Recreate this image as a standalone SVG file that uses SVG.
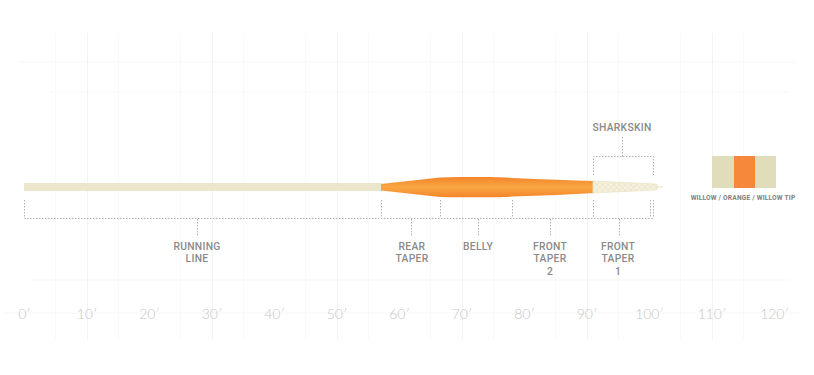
<svg xmlns="http://www.w3.org/2000/svg" width="814" height="375" viewBox="0 0 814 375">
<defs>
<style>
.lbl{font-family:Roboto,"Liberation Sans",sans-serif;font-weight:500;font-size:10.3px;fill:#8a8a8a;text-anchor:middle;letter-spacing:0.3px}
.ax{font-family:Lato,"Liberation Sans",sans-serif;font-weight:300;font-size:14px;fill:#c6c6c6;text-anchor:middle}
.dot{stroke:#b0b0b0;stroke-width:1;stroke-dasharray:1.5 1.5;fill:none}
.gmaj{stroke:#f3f3f3;stroke-width:1}
.gmin{stroke:#f9f9f9;stroke-width:1}
.gh{stroke:#f7f7f7;stroke-width:1}
</style>
<linearGradient id="org" x1="0" y1="0" x2="0" y2="1">
<stop offset="0" stop-color="#f4852a"/>
<stop offset="0.5" stop-color="#f9a744"/>
<stop offset="1" stop-color="#f4852a"/>
</linearGradient>
<pattern id="hatch" width="4" height="4" patternUnits="userSpaceOnUse" patternTransform="rotate(45)">
<rect width="4" height="4" fill="#f6f2e0"/>
<path d="M0,0 L4,0 M0,0 L0,4" stroke="#e4dcb8" stroke-width="1"/>
</pattern>
</defs>
<rect width="814" height="375" fill="#ffffff"/>
<g id="grid">
<line class="gh" x1="20" y1="62" x2="795" y2="62"/>
<line class="gh" x1="50" y1="92" x2="790" y2="92"/>
<line class="gh" x1="30" y1="280" x2="790" y2="280"/>
<line class="gh" x1="5" y1="313" x2="800" y2="313"/>
<line class="gmin" x1="55.5" y1="33" x2="55.5" y2="340"/>
<line class="gmaj" x1="87.5" y1="33" x2="87.5" y2="340"/>
<line class="gmin" x1="118.5" y1="33" x2="118.5" y2="340"/>
<line class="gmin" x1="180.5" y1="33" x2="180.5" y2="340"/>
<line class="gmaj" x1="212.5" y1="33" x2="212.5" y2="340"/>
<line class="gmin" x1="243.5" y1="33" x2="243.5" y2="340"/>
<line class="gmin" x1="305.5" y1="33" x2="305.5" y2="340"/>
<line class="gmaj" x1="337.5" y1="33" x2="337.5" y2="340"/>
<line class="gmin" x1="368.5" y1="33" x2="368.5" y2="340"/>
<line class="gmin" x1="430.5" y1="33" x2="430.5" y2="340"/>
<line class="gmaj" x1="462.5" y1="33" x2="462.5" y2="340"/>
<line class="gmin" x1="493.5" y1="33" x2="493.5" y2="340"/>
<line class="gmin" x1="555.5" y1="33" x2="555.5" y2="340"/>
<line class="gmaj" x1="587.5" y1="33" x2="587.5" y2="340"/>
<line class="gmin" x1="618.5" y1="33" x2="618.5" y2="340"/>
<line class="gmin" x1="680.5" y1="33" x2="680.5" y2="340"/>
<line class="gmaj" x1="712.5" y1="33" x2="712.5" y2="340"/>
<line class="gmin" x1="743.5" y1="33" x2="743.5" y2="340"/>
</g>
<g id="fly-line">
<line x1="655" y1="187" x2="663" y2="187" stroke="#e9e3c8" stroke-width="1"/>
<rect x="24" y="183" width="358" height="8" fill="#ece6cd"/>
<path d="M381,184 L440,177.5 C470,176.8 500,177 512,178 Q560,180 594,181 L594,193 Q560,195 512,196.5 C500,197.5 470,197.5 440,197 L381,190.5 Z" fill="url(#org)"/>
<path d="M593,181 L655,184 A3,3 0 0 1 655,190 L593,193 Z" fill="url(#hatch)" stroke="#ebe4c6" stroke-width="0.8"/>
</g>
<g id="connectors">
<path class="dot" d="M24.5,200 V218.5 H653.5 M381.5,200 V218 M440.5,200 V218 M512.5,200 V218 M593.5,200 V218 M650.5,200 V218 M653.5,200 V218"/>
<path class="dot" d="M197.5,219 V237 M411.5,219 V237 M478.5,219 V237 M550.5,219 V237 M619.5,219 V237"/>
<path class="dot" d="M622.5,137 V156.5 M593.5,175 V156.5 H653.5 V175"/>
</g>
<g id="running-line"><text class="lbl" x="197" y="250">RUNNING</text><text class="lbl" x="197" y="262">LINE</text></g>
<g id="rear-taper"><text class="lbl" x="412" y="250">REAR</text><text class="lbl" x="412" y="262">TAPER</text></g>
<g id="belly"><text class="lbl" x="478" y="250">BELLY</text></g>
<g id="front-taper-2"><text class="lbl" x="550" y="250">FRONT</text><text class="lbl" x="550" y="262">TAPER</text><text class="lbl" x="550" y="275">2</text></g>
<g id="front-taper-1"><text class="lbl" x="618" y="250">FRONT</text><text class="lbl" x="618" y="262">TAPER</text><text class="lbl" x="618" y="275">1</text></g>
<g id="sharkskin"><text class="lbl" x="622" y="131">SHARKSKIN</text></g>
<g id="tip-color">
<rect x="712" y="156" width="64" height="32" fill="#e1dcba"/>
<rect x="734" y="156" width="21" height="32" fill="#f5883a"/>
<text x="743" y="200" font-family="Roboto,'Liberation Sans',sans-serif" font-weight="700" font-size="6.6" fill="#7e7e7e" text-anchor="middle" letter-spacing="0.2">WILLOW / ORANGE / WILLOW TIP</text>
</g>
<g id="axis">
<text class="ax" x="24.5" y="319">0′</text>
<text class="ax" x="87" y="319">10′</text>
<text class="ax" x="149.5" y="319">20′</text>
<text class="ax" x="212" y="319">30′</text>
<text class="ax" x="274.5" y="319">40′</text>
<text class="ax" x="337" y="319">50′</text>
<text class="ax" x="399.5" y="319">60′</text>
<text class="ax" x="462" y="319">70′</text>
<text class="ax" x="524.5" y="319">80′</text>
<text class="ax" x="587" y="319">90′</text>
<text class="ax" x="649.5" y="319">100′</text>
<text class="ax" x="712" y="319">110′</text>
<text class="ax" x="774.5" y="319">120′</text>
</g>
</svg>
